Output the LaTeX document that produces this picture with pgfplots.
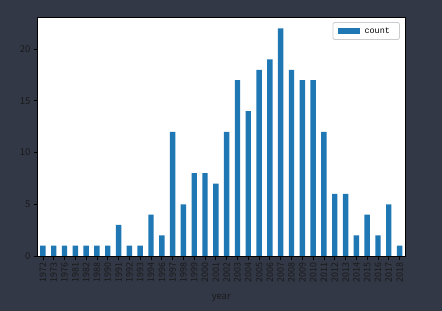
\documentclass[border=0pt]{standalone}
\usepackage{fontspec}
\setmainfont{Noto Sans CJK SC}
\newfontfamily\legfont{Liberation Mono}
\usepackage{pgfplots}
\pgfplotsset{compat=1.18}
\definecolor{bg}{HTML}{323846}
\definecolor{barblue}{HTML}{1F77B4}
\definecolor{lbl}{HTML}{1A1A1A}
\begin{document}
\begin{tikzpicture}
\fill[bg] (0,0) rectangle (442bp,311bp);
\begin{axis}[
  at={(37.5bp,55bp)}, anchor=south west,
  scale only axis, width=367.5bp, height=239bp,
  axis background/.style={fill=white},
  axis line style={black, line width=0.8bp},
  ybar, bar width=0.5,
  xmin=-0.5, xmax=33.5, ymin=0, ymax=23.1,
  xtick=data,
  xticklabels={1972,1973,1976,1981,1982,1988,1990,1991,1992,1993,1994,1996,1997,1998,1999,2000,2001,2002,2003,2004,2005,2006,2007,2008,2009,2010,2011,2012,2013,2014,2015,2016,2017,2018},
  ytick={0,5,10,15,20},
  x tick label style={rotate=90, anchor=east, font=\fontsize{9}{10}\selectfont, text=lbl},
  y tick label style={font=\fontsize{9.5}{10}\selectfont, text=lbl},
  /pgf/number format/assume math mode=true,
  tick align=outside, xtick pos=bottom, ytick pos=left,
  major tick length=3.5bp,
  tick style={black, line width=0.8bp},
  xlabel={year}, xlabel style={font=\fontsize{9.5}{10}\selectfont, text=lbl, yshift=-4bp},
  legend style={at={(0.986,0.979)}, anchor=north east, draw={rgb,255:red,204;green,204;blue,204}, line width=0.8bp, rounded corners=2bp, font=\legfont\fontsize{8.5}{10}\selectfont, inner xsep=4.5bp, inner ysep=2bp, nodes={inner xsep=5bp, inner ysep=3bp}},
  legend image code/.code={\fill[barblue, sharp corners] (0bp,-3.2bp) rectangle (22bp,3.2bp);},
  legend cell align=left,
]
\addplot[fill=barblue, draw=none] coordinates {
(0,1) (1,1) (2,1) (3,1) (4,1) (5,1) (6,1) (7,3) (8,1) (9,1)
(10,4) (11,2) (12,12) (13,5) (14,8) (15,8) (16,7) (17,12) (18,17) (19,14)
(20,18) (21,19) (22,22) (23,18) (24,17) (25,17) (26,12) (27,6) (28,6) (29,2)
(30,4) (31,2) (32,5) (33,1)};
\addlegendentry{count}
\end{axis}
\useasboundingbox (0,0) rectangle (442bp,311bp);
\end{tikzpicture}
\end{document}
